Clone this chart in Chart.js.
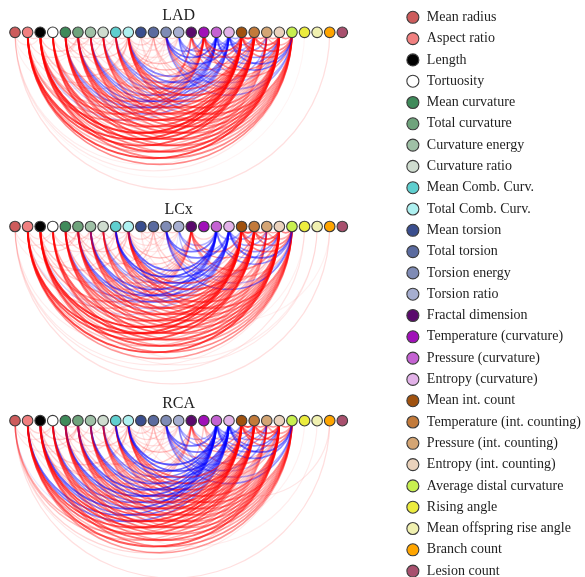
<!DOCTYPE html>
<html>
<head>
<meta charset="utf-8">
<script src="https://cdn.jsdelivr.net/npm/chart.js@4.4.1/dist/chart.umd.min.js"></script>
<style>
  html, body { margin: 0; padding: 0; overflow: hidden; background: #ffffff; }
  #wrap { position: absolute; left: 0; top: 0; width: 600px; height: 600px; }
</style>
</head>
<body>
<div id="wrap"><canvas id="arcChart" width="600" height="600"></canvas></div>
<script>
// Morphological variables (node order along each arc diagram)
const variables = [
  'Mean radius', 'Aspect ratio', 'Length', 'Tortuosity',
  'Mean curvature', 'Total curvature', 'Curvature energy', 'Curvature ratio',
  'Mean Comb. Curv.', 'Total Comb. Curv.',
  'Mean torsion', 'Total torsion', 'Torsion energy', 'Torsion ratio',
  'Fractal dimension',
  'Temperature (curvature)', 'Pressure (curvature)', 'Entropy (curvature)',
  'Mean int. count', 'Temperature (int. counting)', 'Pressure (int. counting)', 'Entropy (int. counting)',
  'Average distal curvature', 'Rising angle', 'Mean offspring rise angle',
  'Branch count', 'Lesion count'
];

const nodeColors = [
  '#cd5c5c', '#f08080', '#000000', '#ffffff',
  '#3f8a5a', '#6fa37c', '#9fc0a6', '#cfdccf',
  '#5fcfcf', '#aef0f0',
  '#3a4e8e', '#5b6b9f', '#7f8bb5', '#a6aed0',
  '#5a0a6c',
  '#a010b8', '#c462d2', '#e2b2e8',
  '#a0520f', '#c27a3a', '#d4a574', '#ead2bc',
  '#c8f050', '#ecec3e', '#f0f0b0',
  '#ffa500', '#a8506e'
];

// Vessel groups, one arc diagram each
const panels = ['LAD', 'LCx', 'RCA'];

// Links: [node a, node b, correlation]; red = positive, blue = negative
const ladLinks = [
  [0,25,0.25],[0,22,0.2],[0,21,0.18],[0,2,0.2],[0,5,0.15],[0,9,0.15],[0,23,0.12],
  [1,14,0.4],[1,15,0.55],[1,18,0.8],[1,19,0.75],[1,20,0.45],[1,21,0.8],[1,22,0.6],[1,2,0.3],[1,5,0.25],[1,9,0.25],[1,12,0.2],
  [2,14,0.45],[2,15,0.6],[2,16,-0.35],[2,18,0.85],[2,19,0.8],[2,20,0.45],[2,21,0.75],[2,22,0.6],[2,5,0.35],[2,9,0.35],[2,11,0.3],[2,3,0.2],
  [3,14,0.4],[3,15,0.5],[3,16,-0.3],[3,18,0.7],[3,19,0.65],[3,20,0.35],[3,21,0.7],[3,22,0.5],[3,7,0.25],[3,6,0.2],
  [4,15,0.55],[4,16,-0.55],[4,17,-0.45],[4,18,0.75],[4,19,0.65],[4,20,0.4],[4,21,0.7],[4,22,0.55],[4,5,0.3],[4,6,0.3],[4,8,0.3],[4,10,0.2],
  [5,15,0.5],[5,16,-0.6],[5,17,-0.55],[5,18,0.7],[5,19,0.7],[5,20,0.4],[5,21,0.65],[5,22,0.5],[5,6,0.3],[5,9,0.35],[5,11,0.3],[5,7,0.2],
  [6,15,0.45],[6,16,-0.55],[6,17,-0.6],[6,18,0.65],[6,19,0.6],[6,20,0.4],[6,21,0.6],[6,22,0.5],[6,7,0.3],[6,8,0.25],[6,12,0.2],
  [7,15,0.4],[7,16,-0.5],[7,17,-0.45],[7,18,0.6],[7,19,0.55],[7,20,0.35],[7,21,0.6],[7,22,0.5],[7,9,0.25],[7,12,0.2],
  [8,15,0.4],[8,16,-0.55],[8,17,-0.55],[8,18,0.6],[8,19,0.6],[8,20,0.4],[8,21,0.55],[8,22,0.5],[8,9,0.3],[8,13,0.2],
  [9,14,0.4],[9,15,0.45],[9,16,-0.6],[9,17,-0.6],[9,18,0.65],[9,19,0.7],[9,20,0.45],[9,21,0.6],[9,22,0.6],[9,11,0.3],[9,12,0.25],[9,13,0.25],
  [10,11,0.3],[10,12,0.25],[10,13,0.2],[10,18,0.25],[10,21,0.2],
  [11,12,0.3],[11,13,0.25],[11,18,0.3],[11,19,0.3],[11,21,0.25],
  [12,15,-0.5],[12,16,-0.65],[12,17,-0.65],[12,18,0.5],[12,19,0.5],[12,20,-0.45],[12,21,0.45],[12,22,-0.5],[12,13,0.3],
  [13,16,-0.5],[13,17,-0.55],[13,19,-0.4],[13,21,-0.4],[13,22,-0.45],
  [14,17,-0.5],[14,18,0.6],[14,19,0.5],[14,21,0.5],[14,15,0.3],
  [15,17,-0.45],[15,18,0.7],[15,19,0.6],[15,21,0.6],[15,22,0.5],
  [16,18,-0.5],[16,19,-0.45],[16,21,-0.55],[16,22,-0.6],
  [17,18,-0.5],[17,19,-0.5],[17,20,-0.5],[17,21,-0.55],[17,22,-0.6],
  [18,19,0.8],[18,20,0.5],[18,21,0.7],[18,22,0.6],[19,20,0.6],[19,21,0.7],[19,22,0.6],[20,21,0.5],[20,22,0.45],[21,22,0.6]
];

const lcxLinks = [
  [0,25,0.25],[0,23,0.22],[0,22,0.2],[0,19,0.18],[0,3,0.2],[0,6,0.15],
  [1,13,-0.2],[1,14,0.4],[1,18,0.8],[1,19,0.75],[1,20,0.4],[1,21,0.8],[1,22,0.55],[1,3,0.25],[1,5,0.3],[1,8,0.25],
  [2,14,0.5],[2,16,-0.3],[2,18,0.85],[2,19,0.8],[2,20,0.4],[2,21,0.75],[2,22,0.6],[2,24,0.2],[2,5,0.35],[2,9,0.35],[2,11,0.3],
  [3,14,0.45],[3,18,0.7],[3,19,0.6],[3,20,0.35],[3,21,0.7],[3,22,0.5],[3,6,0.25],[3,7,0.25],[3,24,0.18],
  [4,14,0.4],[4,16,-0.5],[4,17,-0.4],[4,18,0.7],[4,19,0.65],[4,20,0.4],[4,21,0.7],[4,22,0.55],[4,6,0.3],[4,8,0.3],[4,5,0.3],
  [5,14,0.4],[5,16,-0.65],[5,17,-0.6],[5,18,0.7],[5,19,0.7],[5,20,0.4],[5,21,0.6],[5,22,0.5],[5,9,0.35],[5,11,0.3],[5,7,0.25],[5,23,0.15],
  [6,14,0.35],[6,16,-0.65],[6,17,-0.65],[6,18,0.65],[6,19,0.6],[6,20,0.4],[6,21,0.6],[6,22,0.5],[6,8,0.25],[6,12,0.2],
  [7,14,0.35],[7,16,-0.5],[7,17,-0.45],[7,18,0.6],[7,19,0.55],[7,21,0.55],[7,22,0.45],[7,9,0.25],
  [8,14,0.35],[8,16,-0.75],[8,17,-0.7],[8,18,0.6],[8,19,0.6],[8,20,0.35],[8,21,0.55],[8,22,0.5],[8,9,0.3],[8,12,0.2],
  [9,14,0.4],[9,16,-0.7],[9,17,-0.65],[9,18,0.65],[9,19,0.7],[9,20,0.45],[9,21,0.6],[9,22,0.6],[9,11,0.3],[9,12,0.25],[9,13,0.2],
  [10,12,0.25],[10,13,0.2],[10,11,0.3],[10,19,0.2],[10,25,0.15],
  [11,13,0.25],[11,12,0.3],[11,18,0.3],[11,21,0.25],
  [12,16,-0.65],[12,17,-0.65],[12,18,0.45],[12,19,0.4],[12,20,-0.45],[12,21,0.4],[12,22,-0.6],[12,13,0.3],
  [13,16,-0.45],[13,17,-0.5],[13,22,-0.4],
  [14,18,0.6],[14,19,0.55],[14,21,0.55],[14,22,0.4],[14,16,0.3],
  [16,18,-0.45],[16,21,-0.5],[16,22,-0.55],
  [17,19,-0.5],[17,20,-0.5],[17,21,-0.55],[17,22,-0.65],
  [18,19,0.8],[18,20,0.5],[18,21,0.7],[18,22,0.6],[19,20,0.6],[19,21,0.7],[19,22,0.6],[20,21,0.5],[20,22,0.45],[21,22,0.6]
];

const rcaLinks = [
  [0,25,0.25],[0,18,0.45],[0,19,0.4],[0,21,0.3],[0,22,0.2],[0,16,-0.2],[0,3,0.2],[0,5,0.2],
  [1,16,-0.65],[1,17,-0.6],[1,18,0.75],[1,19,0.7],[1,20,0.45],[1,21,0.75],[1,22,0.55],[1,3,0.3],[1,5,0.3],[1,9,0.25],[1,12,0.2],
  [2,14,0.4],[2,15,0.35],[2,16,-0.7],[2,17,-0.6],[2,18,0.8],[2,19,0.75],[2,20,0.45],[2,21,0.7],[2,22,0.6],[2,5,0.35],[2,9,0.35],[2,11,0.3],
  [3,14,0.35],[3,16,-0.6],[3,17,-0.55],[3,18,0.7],[3,19,0.65],[3,20,0.4],[3,21,0.65],[3,22,0.5],[3,6,0.25],[3,8,0.25],
  [4,14,0.4],[4,16,-0.7],[4,17,-0.6],[4,18,0.7],[4,19,0.65],[4,20,0.4],[4,21,0.65],[4,22,0.55],[4,5,0.3],[4,8,0.3],[4,11,0.25],[4,24,0.18],
  [5,14,0.35],[5,16,-0.7],[5,17,-0.65],[5,18,0.7],[5,19,0.65],[5,20,0.4],[5,21,0.6],[5,22,0.5],[5,9,0.35],[5,7,0.25],[5,12,0.25],
  [6,16,-0.65],[6,17,-0.65],[6,18,0.65],[6,19,0.6],[6,20,0.35],[6,21,0.6],[6,22,0.5],[6,8,0.25],[6,10,0.2],[6,23,0.15],
  [7,14,0.35],[7,16,-0.6],[7,17,-0.55],[7,18,0.6],[7,19,0.55],[7,20,0.35],[7,21,0.55],[7,22,0.45],[7,9,0.25],[7,12,0.2],
  [8,16,-0.7],[8,17,-0.65],[8,18,0.6],[8,19,0.6],[8,20,0.4],[8,21,0.55],[8,22,0.5],[8,9,0.3],[8,13,0.2],
  [9,14,0.4],[9,16,-0.75],[9,17,-0.7],[9,18,0.65],[9,19,0.65],[9,20,0.45],[9,21,0.6],[9,22,0.55],[9,11,0.3],[9,12,0.3],[9,13,0.25],
  [10,11,0.3],[10,12,0.25],[10,13,0.25],[10,18,0.2],
  [11,12,0.3],[11,13,0.25],[11,18,0.3],[11,19,0.25],
  [12,16,-0.65],[12,17,-0.65],[12,18,0.45],[12,19,-0.45],[12,20,-0.5],[12,21,0.4],[12,22,-0.55],[12,13,0.3],
  [13,16,-0.45],[13,17,-0.5],[13,21,-0.4],[13,22,-0.45],[13,25,0.22],
  [14,18,0.55],[14,19,0.5],[14,21,0.5],[14,17,-0.35],
  [15,18,0.4],[15,19,0.35],[15,21,0.35],
  [16,18,-0.55],[16,19,-0.5],[16,20,-0.5],[16,21,-0.55],[16,22,-0.6],
  [17,19,-0.55],[17,20,-0.5],[17,21,-0.6],[17,22,-0.65],
  [18,19,0.8],[18,20,0.55],[18,21,0.7],[18,22,0.6],[19,20,0.6],[19,21,0.7],[19,22,0.6],[20,21,0.55],[20,22,0.5],[21,22,0.6]
];

const panelLinks = [ladLinks, lcxLinks, rcaLinks];

// Layout of the diagrams inside the chart area (pixels)
const NODE_FIRST_PX = 15;
const NODE_LAST_PX = 342.3;
const ROW_FIRST_PX = 32.3;
const ROW_STEP_PX = 194.2;
const PAD_TOP = 3;

const serif = '"Liberation Serif", "Times New Roman", Times, serif';

// Semicircular links below each node row, drawn through the chart scales
const arcLinksPlugin = {
  id: 'arcLinks',
  beforeDatasetsDraw(chart) {
    const { ctx, scales: { x, y } } = chart;
    ctx.save();
    panelLinks.forEach((links, row) => {
      const yRow = y.getPixelForValue(row);
      const ordered = links.slice().sort((p, q) => Math.abs(p[2]) - Math.abs(q[2]));
      ordered.forEach(([a, b, w]) => {
        const xa = x.getPixelForValue(a);
        const xb = x.getPixelForValue(b);
        const s = Math.abs(w);
        const alpha = Math.min(0.85, Math.pow(s, 1.5));
        ctx.beginPath();
        ctx.arc((xa + xb) / 2, yRow, Math.abs(xb - xa) / 2, 0, Math.PI);
        ctx.strokeStyle = w > 0 ? `rgba(255,0,0,${alpha})` : `rgba(0,0,255,${alpha})`;
        ctx.lineWidth = 1 + 1.2 * s;
        ctx.stroke();
      });
    });
    ctx.restore();
  },
  afterDatasetsDraw(chart) {
    const { ctx, scales: { x, y } } = chart;
    ctx.save();
    ctx.font = `16px ${serif}`;
    ctx.fillStyle = '#222222';
    ctx.textAlign = 'center';
    ctx.textBaseline = 'middle';
    const xc = (x.getPixelForValue(0) + x.getPixelForValue(variables.length - 1)) / 2;
    panels.forEach((name, row) => {
      ctx.fillText(name, xc, y.getPixelForValue(row) - 17);
    });
    ctx.restore();
  }
};

const datasets = variables.map((name, i) => ({
  label: name,
  data: panels.map((p, row) => ({ x: i, y: row })),
  backgroundColor: nodeColors[i],
  borderColor: '#3c3c3c',
  borderWidth: 1.1,
  pointRadius: 5.3,
  pointHoverRadius: 5.3,
  pointStyle: 'circle'
}));

new Chart(document.getElementById('arcChart'), {
  type: 'scatter',
  data: { datasets },
  options: {
    responsive: false,
    animation: false,
    events: [],
    clip: false,
    layout: { autoPadding: false, padding: { top: PAD_TOP, right: 9, left: 0, bottom: 0 } },
    scales: {
      x: {
        type: 'linear',
        display: false,
        bounds: 'data',
        grace: 0,
        afterDataLimits(scale) {
          const k = (NODE_LAST_PX - NODE_FIRST_PX) / (variables.length - 1);
          scale.min = -NODE_FIRST_PX / k;
          scale.max = scale.min + scale.width / k;
        }
      },
      y: {
        type: 'linear',
        display: false,
        reverse: true,
        bounds: 'data',
        grace: 0,
        afterDataLimits(scale) {
          scale.min = -(ROW_FIRST_PX - PAD_TOP) / ROW_STEP_PX;
          scale.max = scale.min + scale.height / ROW_STEP_PX;
        }
      }
    },
    plugins: {
      tooltip: { enabled: false },
      legend: {
        position: 'right',
        align: 'start',
        labels: {
          usePointStyle: true,
          pointStyle: 'circle',
          boxWidth: 14,
          boxHeight: 8.5,
          padding: 7.3,
          color: '#1e1e1e',
          font: { family: serif, size: 14 }
        }
      }
    }
  },
  plugins: [arcLinksPlugin]
});
</script>
</body>
</html>
